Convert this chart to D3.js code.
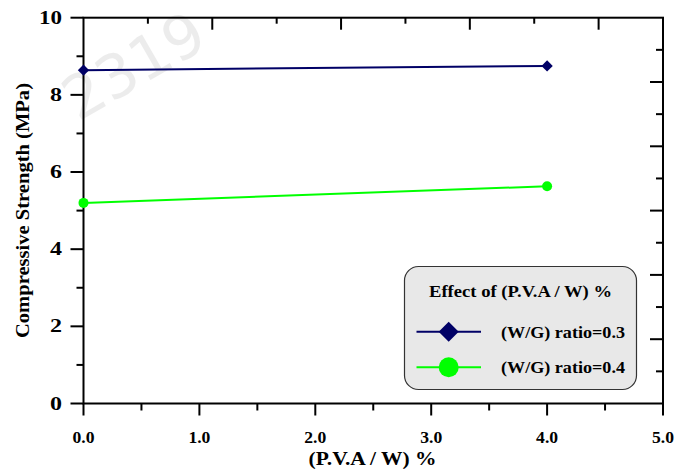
<!DOCTYPE html>
<html>
<head>
<meta charset="utf-8">
<title>Compressive Strength</title>
<script src="https://cdnjs.cloudflare.com/ajax/libs/d3/7.8.5/d3.min.js"></script>
<style>
    body { margin: 0; background: #fff; }
    text { font-family: "Liberation Serif", "Times New Roman", serif; font-weight: bold; fill: #000; }
</style>
</head>
<body>
<script>
    // data
    var pva = [0, 4];
    var ratio03 = [8.64, 8.75];
    var ratio04 = [5.20, 5.63];
    var seriesNames = ["(W/G) ratio=0.3", "(W/G) ratio=0.4"];
    var xTicks = [0, 1, 2, 3, 4, 5];
    var yTicks = [0, 2, 4, 6, 8, 10];

    var width = 689, height = 470,
        plotLeft = 83.5, plotRight = 663, plotTop = 17.7, plotBottom = 403.5;

    var x = d3.scaleLinear().domain([0, 5]).range([plotLeft, plotRight]);
    var y = d3.scaleLinear().domain([0, 10]).range([plotBottom, plotTop]);
    // unlabeled opposite axes use their own spacing
    var xTop = d3.scaleLinear().domain([0, 4.5]).range([plotLeft, plotRight]);
    var yRight = d3.scaleLinear().domain([0, 6]).range([plotBottom, plotTop]);

    var svg = d3.select("body").append("svg")
        .attr("width", width)
        .attr("height", height);

    // faint watermark from the scan
    svg.append("text")
        .attr("transform", "translate(78,122) rotate(-30)")
        .style("font-size", "60px")
        .style("font-weight", "normal")
        .style("font-family", "DejaVu Sans")
        .style("fill", "#000")
        .style("opacity", 0.07)
        .text("2319");

    // fonts in the reference run wider than Liberation Serif, so stretch to measured widths
    function fit(sel, w) {
        sel.attr("textLength", w).attr("lengthAdjust", "spacingAndGlyphs");
    }

    function tickLines(g, vals, x1, y1, x2, y2) {
        g.selectAll(null).data(vals).enter().append("line")
            .attr("x1", x1).attr("y1", y1)
            .attr("x2", x2).attr("y2", y2)
            .attr("stroke", "#000")
            .attr("stroke-width", 2);
    }

    var axes = svg.append("g");
    var halfX = d3.range(0.5, 5, 1);
    var halfY = d3.range(1, 10, 2);

    // bottom ticks (outward)
    tickLines(axes, xTicks, x, plotBottom, x, plotBottom + 12);
    tickLines(axes, halfX, x, plotBottom, x, plotBottom + 7);
    // left ticks (outward)
    tickLines(axes, yTicks, plotLeft, y, plotLeft - 13, y);
    tickLines(axes, halfY, plotLeft, y, plotLeft - 7, y);
    // top ticks (inward)
    tickLines(axes, [1, 2, 3, 4], xTop, plotTop, xTop, plotTop + 12);
    tickLines(axes, [0.5, 1.5, 2.5, 3.5], xTop, plotTop, xTop, plotTop + 6);
    // right ticks (inward)
    tickLines(axes, [1, 2, 3, 4, 5], plotRight, yRight, plotRight - 13, yRight);
    tickLines(axes, [0.5, 1.5, 2.5, 3.5, 4.5, 5.5], plotRight, yRight, plotRight - 7, yRight);

    axes.append("rect")
        .attr("x", plotLeft).attr("y", plotTop)
        .attr("width", plotRight - plotLeft).attr("height", plotBottom - plotTop)
        .attr("fill", "none")
        .attr("stroke", "#000")
        .attr("stroke-width", 2);

    // tick labels
    axes.selectAll(null).data(xTicks).enter().append("text")
        .attr("x", function(d){ return x(d); })
        .attr("y", 443)
        .attr("text-anchor", "middle")
        .style("font-size", "17px")
        .text(function(d){ return d3.format(".1f")(d); })
        .call(fit, 22);

    axes.selectAll(null).data(yTicks).enter().append("text")
        .attr("x", 62)
        .attr("y", function(d){ return y(d) + 6; })
        .attr("text-anchor", "end")
        .style("font-size", "18px")
        .text(function(d){ return d; })
        .each(function(d){ d3.select(this).call(fit, d >= 10 ? 23 : 12); });

    svg.append("text")
        .attr("x", 372.5)
        .attr("y", 465)
        .attr("text-anchor", "middle")
        .style("font-size", "18px")
        .text("(P.V.A / W) %")
        .call(fit, 128);

    svg.append("text")
        .attr("transform", "translate(29,210.5) rotate(-90)")
        .attr("text-anchor", "middle")
        .style("font-size", "18px")
        .text("Compressive Strength (MPa)")
        .call(fit, 255);

    // series
    var line = d3.line()
        .x(function(d){ return x(d[0]); })
        .y(function(d){ return y(d[1]); });

    var s1 = pva.map(function(v, i){ return [v, ratio03[i]]; });
    var s2 = pva.map(function(v, i){ return [v, ratio04[i]]; });

    svg.append("path").datum(s1)
        .attr("d", line)
        .attr("fill", "none")
        .attr("stroke", "#000066")
        .attr("stroke-width", 2);

    svg.append("path").datum(s2)
        .attr("d", line)
        .attr("fill", "none")
        .attr("stroke", "#00ff00")
        .attr("stroke-width", 2);

    svg.selectAll(null).data(s1).enter().append("path")
        .attr("transform", function(d){ return "translate(" + x(d[0]) + "," + y(d[1]) + ") rotate(45)"; })
        .attr("d", d3.symbol().type(d3.symbolSquare).size(64))
        .attr("fill", "#000066");

    svg.selectAll(null).data(s2).enter().append("circle")
        .attr("cx", function(d){ return x(d[0]); })
        .attr("cy", function(d){ return y(d[1]); })
        .attr("r", 5)
        .attr("fill", "#00ff00");

    // legend
    var lg = svg.append("g");
    lg.append("rect")
        .attr("x", 404.5).attr("y", 266.5)
        .attr("width", 232).attr("height", 123)
        .attr("rx", 14).attr("ry", 14)
        .attr("fill", "#e8e8e8")
        .attr("stroke", "#333")
        .attr("stroke-width", 1.2);

    lg.append("text")
        .attr("x", 520.5)
        .attr("y", 297)
        .attr("text-anchor", "middle")
        .style("font-size", "17px")
        .text("Effect of (P.V.A / W) %")
        .call(fit, 183);

    var rows = [
        {name: seriesNames[0], color: "#000066", cy: 331.7, mark: "diamond"},
        {name: seriesNames[1], color: "#00ff00", cy: 367.3, mark: "circle"}
    ];

    rows.forEach(function(r){
        lg.append("line")
            .attr("x1", 416.5).attr("x2", 481)
            .attr("y1", r.cy).attr("y2", r.cy)
            .attr("stroke", r.color)
            .attr("stroke-width", 2);
        if (r.mark === "diamond") {
            lg.append("path")
                .attr("transform", "translate(448.7," + r.cy + ") rotate(45)")
                .attr("d", d3.symbol().type(d3.symbolSquare).size(200))
                .attr("fill", r.color);
        } else {
            lg.append("circle")
                .attr("cx", 448.7).attr("cy", r.cy)
                .attr("r", 10)
                .attr("fill", r.color);
        }
        lg.append("text")
            .attr("x", 501)
            .attr("y", r.cy + 6)
            .style("font-size", "17px")
            .text(r.name)
            .call(fit, 124);
    });
</script>
</body>
</html>
